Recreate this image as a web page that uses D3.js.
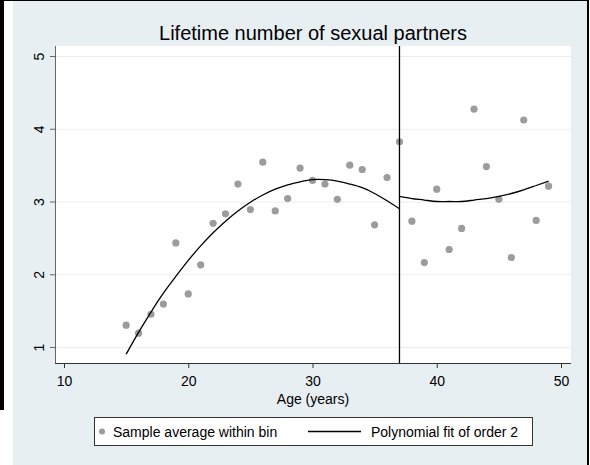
<!DOCTYPE html>
<html>
<head>
<meta charset="utf-8">
<script src="https://cdn.jsdelivr.net/npm/d3@7"></script>
<style>
  body { margin: 0; background: #ffffff; }
  svg { display: block; font-family: "Liberation Sans", Arial, sans-serif; }
</style>
</head>
<body>
<div id="chart"></div>
<script>
// Bin averages (age, mean number of partners)
var ages = [15, 16, 17, 18, 19, 20, 21, 22, 23, 24, 25, 26, 27, 28, 29, 30, 31, 32,
            33, 34, 35, 36, 37, 38, 39, 40, 41, 42, 43, 44, 45, 46, 47, 48, 49];
var binMeans = [1.30, 1.19, 1.45, 1.59, 2.43, 1.73, 2.13, 2.70, 2.83, 3.24, 2.89, 3.54,
                2.87, 3.04, 3.46, 3.29, 3.24, 3.03, 3.50, 3.44, 2.68, 3.33, 3.82,
                2.73, 2.16, 3.17, 2.34, 2.63, 4.27, 3.48, 3.03, 2.23, 4.12, 2.74, 3.21];

// Fitted curve, left and right of the cutoff
var fitLeftAges = [15, 16, 17, 18, 19, 20, 21, 22, 23, 24, 25, 26, 27, 28, 29, 30, 31,
                   32, 33, 34, 35, 36, 37];
var fitLeftValues = [0.90, 1.20, 1.48, 1.74, 1.97, 2.19, 2.39, 2.57, 2.73, 2.87, 2.99,
                     3.09, 3.17, 3.23, 3.27, 3.30, 3.30, 3.28, 3.24, 3.19, 3.11, 3.01, 2.90];
var fitRightAges = [37, 38, 39, 40, 41, 42, 43, 44, 45, 46, 47, 48, 49];
var fitRightValues = [3.07, 3.04, 3.02, 3.00, 3.00, 3.00, 3.02, 3.04, 3.07, 3.11, 3.16,
                      3.22, 3.28];

var cutoff = 37;
var xTicks = [10, 20, 30, 40, 50];
var yTicks = [1, 2, 3, 4, 5];

var titleText = "Lifetime number of sexual partners";
var xLabel = "Age (years)";
var legendLabels = ["Sample average within bin", "Polynomial fit of order 2"];

var bgColor = "#e8eff2";
var pointColor = "#9c9c9c";

function drawChart() {
    var w = 590, h = 465;
    var plot = { left: 55, right: 571, top: 46, bottom: 363 };

    var svg = d3.select("#chart").append("svg")
        .attr("width", w)
        .attr("height", h);

    // outer frame
    svg.append("rect").attr("x", 0).attr("y", 0).attr("width", 589).attr("height", 1).attr("fill", "#000");
    svg.append("rect").attr("x", 0).attr("y", 0).attr("width", 4).attr("height", 410).attr("fill", "#000");
    svg.append("rect").attr("x", 587).attr("y", 0).attr("width", 2).attr("height", 465).attr("fill", "#000");

    // graph region
    svg.append("rect")
        .attr("x", 13).attr("y", 1)
        .attr("width", 574).attr("height", 464)
        .attr("fill", bgColor);

    // plot region
    svg.append("rect")
        .attr("x", plot.left).attr("y", plot.top)
        .attr("width", plot.right - plot.left).attr("height", plot.bottom - plot.top)
        .attr("fill", "#ffffff");

    var x = d3.scaleLinear().domain([10, 50]).range([64, 561]);
    var y = d3.scaleLinear().domain([1, 5]).range([347, 56]);

    // gridlines
    svg.append("g").selectAll("line")
        .data(yTicks)
        .enter()
        .append("line")
        .attr("x1", plot.left).attr("x2", plot.right)
        .attr("y1", function (d) { return y(d) + 0.5; })
        .attr("y2", function (d) { return y(d) + 0.5; })
        .attr("stroke", bgColor)
        .attr("stroke-width", 1.2);

    // y axis
    var yAxis = svg.append("g")
        .attr("transform", "translate(" + plot.left + ",0)")
        .call(d3.axisLeft(y).tickValues(yTicks).tickSize(5).tickFormat(d3.format("d")));
    yAxis.select(".domain").attr("d", "M0.5," + plot.top + "V" + plot.bottom).attr("stroke", "#666");
    yAxis.selectAll(".tick line").attr("stroke", "#666");
    yAxis.selectAll(".tick text")
        .attr("x", null).attr("dy", null)
        .attr("transform", "translate(-11,0) rotate(-90)")
        .attr("text-anchor", "middle")
        .attr("font-size", 14)
        .attr("font-family", "Liberation Sans, Arial, sans-serif")
        .attr("fill", "#000");

    // x axis
    var xAxis = svg.append("g")
        .attr("transform", "translate(0," + plot.bottom + ")")
        .call(d3.axisBottom(x).tickValues(xTicks).tickSize(5).tickFormat(d3.format("d")));
    xAxis.select(".domain").attr("d", "M" + plot.left + ",0.5H" + plot.right).attr("stroke", "#333");
    xAxis.selectAll(".tick line").attr("stroke", "#333");
    xAxis.selectAll(".tick text")
        .attr("y", 13).attr("dy", "0.71em")
        .attr("font-size", 14)
        .attr("font-family", "Liberation Sans, Arial, sans-serif")
        .attr("fill", "#000");

    svg.append("text")
        .attr("x", (plot.left + plot.right) / 2)
        .attr("y", 404)
        .attr("text-anchor", "middle")
        .attr("font-size", 14)
        .text(xLabel);

    // title
    svg.append("text")
        .attr("x", (plot.left + plot.right) / 2)
        .attr("y", 40)
        .attr("text-anchor", "middle")
        .attr("font-size", 20)
        .text(titleText);

    // bin averages
    svg.append("g").selectAll("circle")
        .data(ages)
        .enter()
        .append("circle")
        .attr("cx", function (d) { return x(d); })
        .attr("cy", function (d, i) { return y(binMeans[i]); })
        .attr("r", 3.6)
        .attr("fill", pointColor);

    // fitted curves
    var line = d3.line()
        .x(function (d) { return x(d[0]); })
        .y(function (d) { return y(d[1]); })
        .curve(d3.curveNatural);

    svg.append("path")
        .attr("d", line(d3.zip(fitLeftAges, fitLeftValues)))
        .attr("fill", "none").attr("stroke", "#000").attr("stroke-width", 1.3);
    svg.append("path")
        .attr("d", line(d3.zip(fitRightAges, fitRightValues)))
        .attr("fill", "none").attr("stroke", "#000").attr("stroke-width", 1.3);

    // cutoff line
    svg.append("line")
        .attr("x1", x(cutoff)).attr("x2", x(cutoff))
        .attr("y1", plot.top).attr("y2", plot.bottom)
        .attr("stroke", "#000").attr("stroke-width", 1.3);

    // legend
    var lg = svg.append("g");
    lg.append("rect")
        .attr("x", 94.5).attr("y", 417.5)
        .attr("width", 438).attr("height", 28)
        .attr("fill", "#fff").attr("stroke", "#333");
    lg.append("circle")
        .attr("cx", 102).attr("cy", 431.5).attr("r", 3)
        .attr("fill", pointColor);
    lg.append("text")
        .attr("x", 113).attr("y", 436.5)
        .attr("font-size", 14)
        .text(legendLabels[0]);
    lg.append("line")
        .attr("x1", 308).attr("x2", 361)
        .attr("y1", 431.5).attr("y2", 431.5)
        .attr("stroke", "#000").attr("stroke-width", 1.3);
    lg.append("text")
        .attr("x", 371).attr("y", 436.5)
        .attr("font-size", 14)
        .text(legendLabels[1]);
}

document.addEventListener("DOMContentLoaded", function () {
    drawChart();
});
</script>
</body>
</html>
